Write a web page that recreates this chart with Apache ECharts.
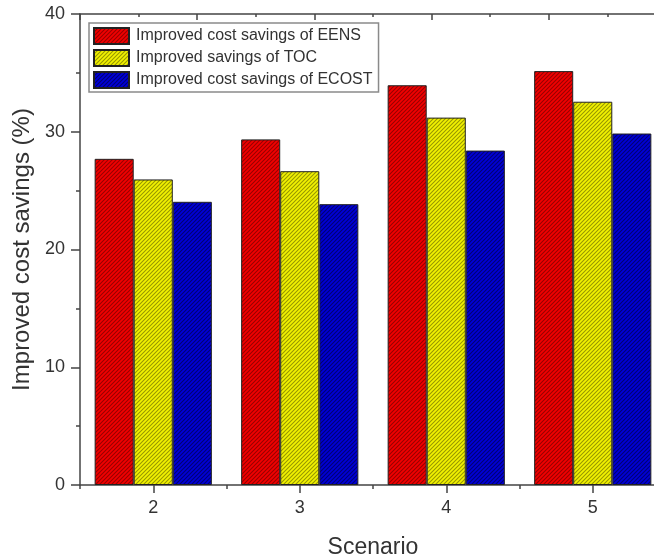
<!DOCTYPE html>
<html>
<head>
<meta charset="utf-8">
<script src="https://cdn.jsdelivr.net/npm/echarts@6/dist/echarts.min.js"></script>
<style>html,body{margin:0;padding:0;background:#fff;}#chart{width:654px;height:558px;}</style>
</head>
<body>
<div id="chart"></div>
<script>
var categories = ['2', '3', '4', '5'];
var seriesNames = ['Improved cost savings of EENS', 'Improved savings of TOC', 'Improved cost savings of ECOST'];
var eensValues = [27.7, 29.35, 33.95, 35.15];
var tocValues = [25.95, 26.65, 31.2, 32.55];
var ecostValues = [24.05, 23.85, 28.4, 29.85];
var yTicks = [0, 10, 20, 30, 40];

function hatch(base, line) {
  var s = 4;
  var c = document.createElement('canvas');
  c.width = s; c.height = s;
  var g = c.getContext('2d');
  g.fillStyle = base; g.fillRect(0, 0, s, s);
  g.strokeStyle = line; g.lineWidth = 1.1;
  g.beginPath();
  g.moveTo(-1, s + 1); g.lineTo(s + 1, -1);
  g.moveTo(-1, 1); g.lineTo(1, -1);
  g.moveTo(s - 1, s + 1); g.lineTo(s + 1, s - 1);
  g.stroke();
  return { image: c, repeat: 'repeat' };
}

var fills = [
  hatch('#f20000', 'rgba(90,0,0,0.6)'),
  hatch('#f2f200', 'rgba(90,90,0,0.6)'),
  hatch('#0000d8', 'rgba(0,0,60,0.65)')
];
var values = [eensValues, tocValues, ecostValues];

var chart = echarts.init(document.getElementById('chart'), null, { renderer: 'canvas' });
var textColor = '#333';
var axisColor = '#444';
var ff = 'Liberation Sans, Arial, sans-serif';

var series = seriesNames.map(function (n, i) {
  return {
    name: n,
    type: 'bar',
    xAxisIndex: 0,
    yAxisIndex: 0,
    data: values[i],
    barGap: '0%',
    barCategoryGap: '20%',
    itemStyle: { color: fills[i], borderColor: '#222', borderWidth: 1 }
  };
});

chart.setOption({
  animation: false,
  backgroundColor: '#fff',
  grid: { left: 80, top: 14, width: 586, height: 471, containLabel: false, outerBoundsMode: 'none' },
  legend: {
    orient: 'vertical',
    left: 89,
    top: 23,
    padding: [4, 6, 3, 4],
    itemGap: 4,
    itemWidth: 35,
    itemHeight: 16,
    icon: 'rect',
    backgroundColor: '#fff',
    borderColor: '#8a8a8a',
    borderWidth: 1.5,
    textStyle: { fontFamily: ff, fontSize: 16, color: textColor, padding: [0, 0, 0, 2] },
    data: seriesNames
  },
  xAxis: [
    {
      type: 'category',
      data: categories,
      position: 'bottom',
      name: 'Scenario',
      nameLocation: 'middle',
      nameGap: 51,
      nameTextStyle: { fontFamily: ff, fontSize: 23, color: textColor },
      axisLine: { show: true, lineStyle: { color: axisColor, width: 1.5 } },
      axisTick: { show: true, alignWithLabel: true, length: 8, lineStyle: { color: axisColor, width: 1.5 } },
      axisLabel: { fontFamily: ff, fontSize: 18, color: textColor, margin: 14 },
      splitLine: { show: false }
    },
    {
      type: 'value',
      position: 'bottom',
      min: 0, max: 4, interval: 1,
      axisLine: { show: false },
      axisTick: { show: true, length: 4, lineStyle: { color: axisColor, width: 1.5 } },
      axisLabel: { show: false },
      splitLine: { show: false }
    },
    {
      type: 'value',
      position: 'top',
      min: 0, max: 10, interval: 2,
      axisLine: { show: true, lineStyle: { color: axisColor, width: 1.5 } },
      axisTick: { show: true, inside: true, length: 6, lineStyle: { color: axisColor, width: 1.5 } },
      minorTick: { show: true, splitNumber: 2, length: 3, lineStyle: { color: axisColor, width: 1.5 } },
      axisLabel: { show: false },
      splitLine: { show: false }
    }
  ],
  yAxis: [
    {
      type: 'value',
      min: yTicks[0], max: yTicks[yTicks.length - 1], interval: 10,
      name: 'Improved cost savings (%)',
      nameLocation: 'middle',
      nameGap: 44,
      nameTextStyle: { fontFamily: ff, fontSize: 24, color: textColor },
      axisLine: { show: true, lineStyle: { color: axisColor, width: 1.5 } },
      axisTick: { show: true, length: 9, lineStyle: { color: axisColor, width: 1.5 } },
      minorTick: { show: true, splitNumber: 2, length: 4, lineStyle: { color: axisColor, width: 1.5 } },
      axisLabel: { fontFamily: ff, fontSize: 18, color: textColor, margin: 15 },
      splitLine: { show: false }
    }
  ],
  series: series
});
</script>
</body>
</html>
